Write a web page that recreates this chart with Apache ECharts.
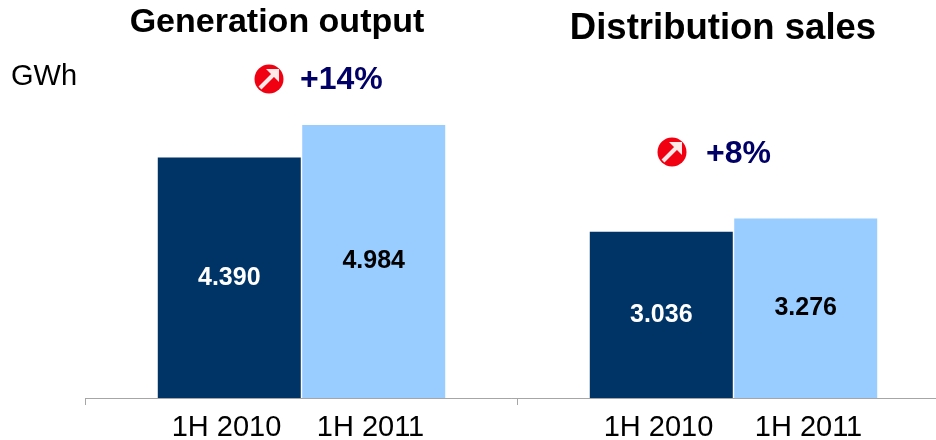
<!DOCTYPE html>
<html lang="en">
<head>
    <meta charset="UTF-8">
    <title>Generation output and distribution sales</title>
    <script src="https://cdn.jsdelivr.net/npm/echarts@6/dist/echarts.min.js"></script>
    <style>
        html, body { margin: 0; padding: 0; background: #fff; }
        #chart { width: 936px; height: 440px; }
    </style>
</head>
<body>
<div id="chart"></div>
<script>
    const groups = ['Generation output', 'Distribution sales']
    const periods = ['1H 2010', '1H 2011']
    const values2010 = [4.390, 3.036]
    const values2011 = [4.984, 3.276]
    const changes = ['+14%', '+8%']
    const unit = 'GWh'

    const FONT = '"Liberation Sans", Arial, sans-serif'

    // period labels sit on a second axis of 3px steps, so they can be placed by hand
    const periodSlots = new Array(289).fill('')
    periodSlots[47] = periodSlots[191] = periods[0]
    periodSlots[95] = periodSlots[241] = periods[1]

    const text = function (x, y, str, size, color, weight, align) {
        return {
            type: 'text', x: x, y: y,
            style: {
                text: str, fill: color, font: (weight || 'normal') + ' ' + size + 'px ' + FONT,
                textAlign: align || 'left', textVerticalAlign: 'middle'
            }
        }
    }

    const upIcon = function (x, y) {
        return {
            type: 'group', x: x, y: y,
            children: [
                {type: 'circle', shape: {r: 14.5}, style: {fill: '#f00010'}},
                {type: 'line', shape: {x1: -9, y1: 9, x2: 5, y2: -5}, style: {stroke: '#ffe8e8', lineWidth: 4}},
                {type: 'polygon', shape: {points: [[-3, -10], [10, -10], [10, 3]]}, style: {fill: '#ffe8e8'}}
            ]
        }
    }

    const barLabel = function (color) {
        return {
            show: true,
            position: 'inside',
            color: color,
            fontFamily: FONT,
            fontWeight: 'bold',
            fontSize: 25,
            formatter: (p) => p.value.toFixed(3)
        }
    }

    const chart = echarts.init(document.getElementById('chart'), null, {renderer: 'canvas'})
    chart.setOption({
        animation: false,
        backgroundColor: '#fff',
        grid: {left: 85.5, top: 100, width: 864, height: 298, outerBoundsMode: 'none'},
        xAxis: [
            {
                type: 'category',
                data: groups,
                axisLine: {lineStyle: {color: '#a6a6a6', width: 1}},
                axisTick: {show: true, interval: 0, length: 7, lineStyle: {color: '#a6a6a6'}},
                axisLabel: {show: false}
            },
            {
                type: 'category',
                position: 'bottom',
                boundaryGap: false,
                data: periodSlots,
                axisLine: {show: false},
                axisTick: {show: false},
                axisLabel: {
                    interval: 0, margin: 15, color: '#000',
                    fontFamily: FONT, fontSize: 29
                }
            }
        ],
        yAxis: {type: 'value', min: 0, max: 5.44, show: false},
        series: [
            {
                type: 'bar', name: periods[0], data: values2010,
                barWidth: 143, barGap: '1%',
                itemStyle: {color: '#003366'},
                label: barLabel('#fff')
            },
            {
                type: 'bar', name: periods[1], data: values2011,
                barWidth: 143, barGap: '1%',
                itemStyle: {color: '#99ccff'},
                label: barLabel('#000')
            }
        ],
        graphic: [
            text(277, 23, groups[0], 34, '#000', 'bold', 'center'),
            text(723, 29, groups[1], 36.5, '#000', 'bold', 'center'),
            text(11, 77, unit, 29, '#000'),
            upIcon(269, 79),
            text(300, 80, changes[0], 32, '#000066', 'bold'),
            upIcon(672, 152),
            text(706, 154, changes[1], 32, '#000066', 'bold')
        ]
    })
</script>
</body>
</html>
